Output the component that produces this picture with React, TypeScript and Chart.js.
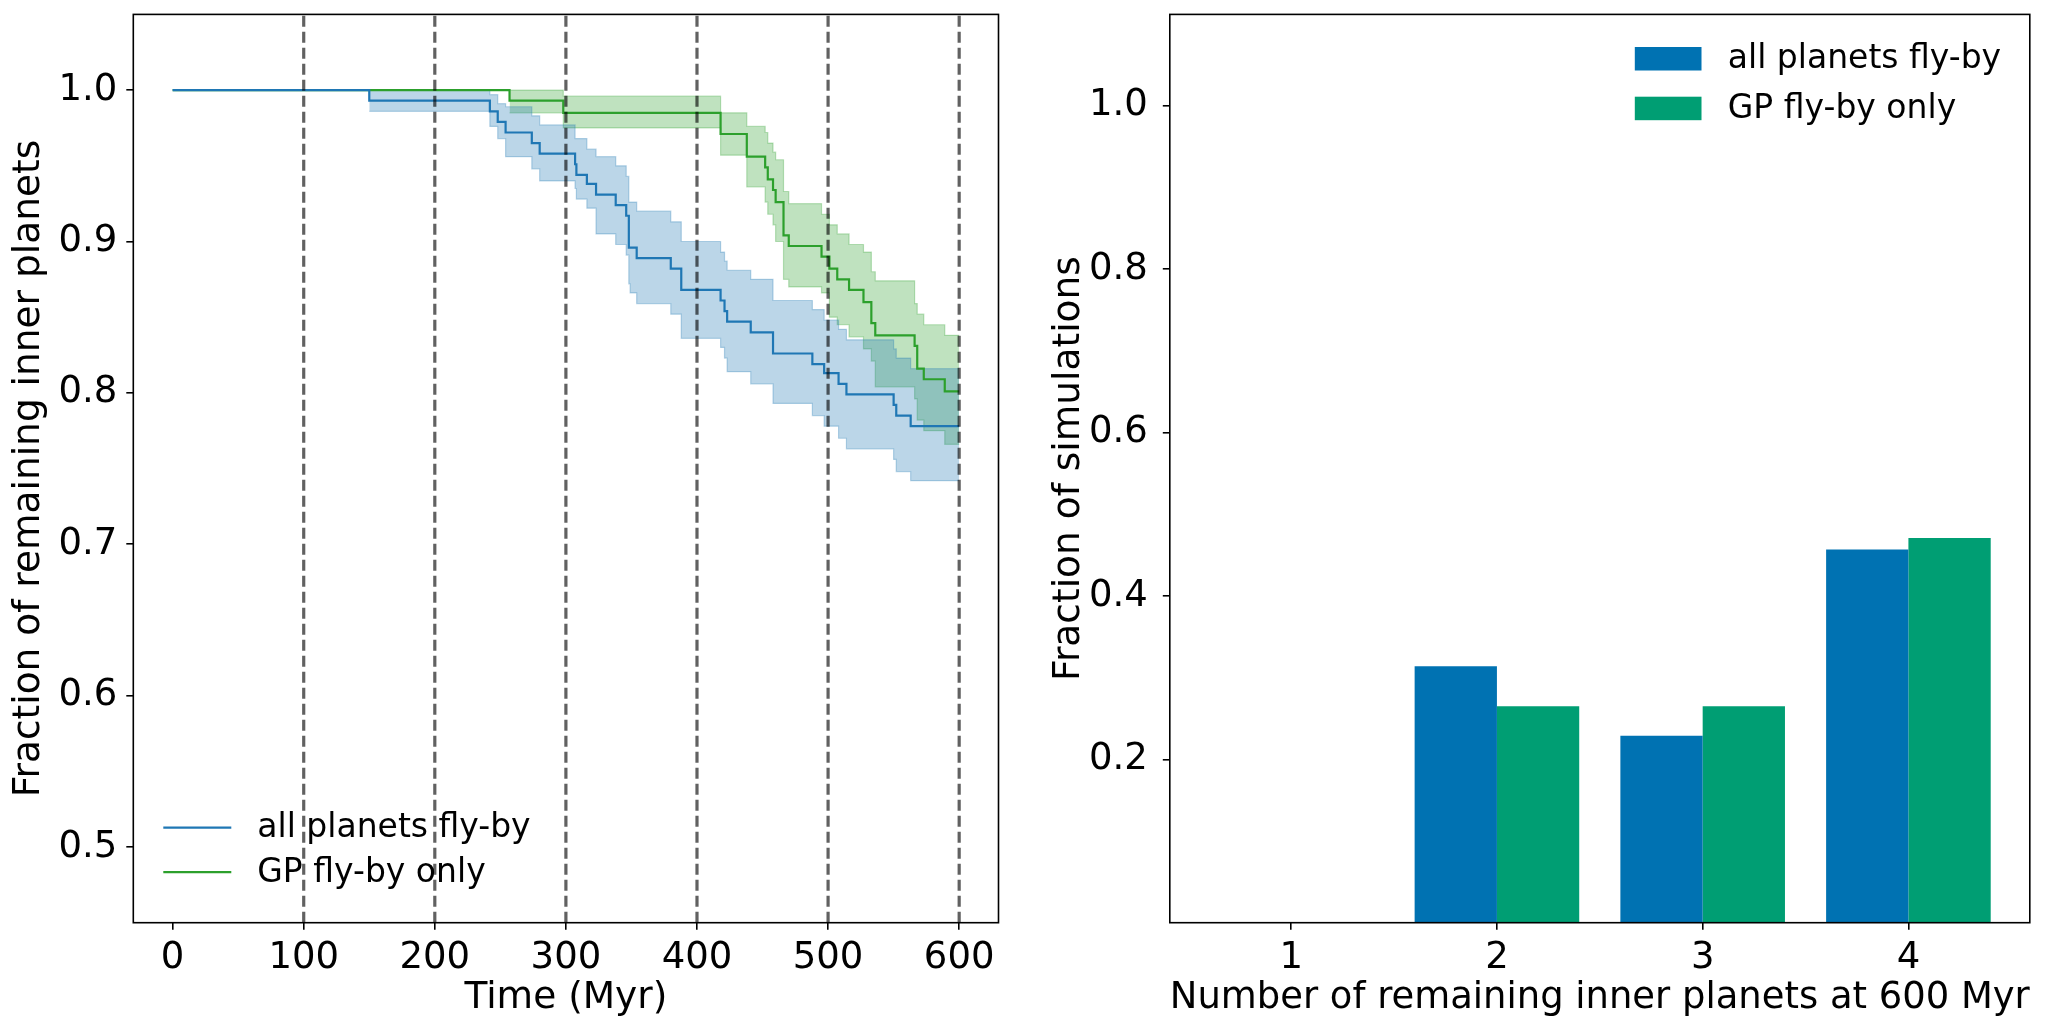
import React, { useEffect, useRef } from 'react';
import { Chart, registerables } from 'chart.js';

Chart.register(...registerables);

// ---------- data: left panel ----------
const seriesLabels = ['all planets fly-by', 'GP fly-by only'];

const blueTimes = [0, 150, 242, 248, 254, 274, 280, 307, 308, 316, 323, 338, 346, 348, 354, 380, 388, 418, 421, 423, 441, 458, 488, 497, 508, 514, 550, 552, 563, 600];
const blueValues = [1.0, 0.993, 0.986, 0.979, 0.972, 0.965, 0.958, 0.951, 0.944, 0.938, 0.931, 0.924, 0.917, 0.896, 0.889, 0.882, 0.868, 0.861, 0.854, 0.847, 0.84, 0.826, 0.819, 0.813, 0.806, 0.799, 0.792, 0.785, 0.778, 0.778];

const blueBandTimes = [150, 242, 248, 254, 274, 280, 307, 308, 316, 323, 338, 346, 348, 349, 354, 380, 388, 418, 421, 423, 441, 458, 488, 497, 508, 514, 550, 552, 563, 600];
const blueBandUpper = [1.0, 0.997, 0.991, 0.989, 0.983, 0.977, 0.968, 0.968, 0.961, 0.956, 0.95, 0.943, 0.926, 0.926, 0.92, 0.913, 0.9, 0.893, 0.887, 0.881, 0.875, 0.861, 0.855, 0.848, 0.842, 0.835, 0.829, 0.823, 0.816, 0.816];
const blueBandLower = [0.986, 0.976, 0.968, 0.956, 0.948, 0.94, 0.935, 0.928, 0.922, 0.905, 0.898, 0.891, 0.872, 0.866, 0.859, 0.852, 0.836, 0.83, 0.823, 0.814, 0.806, 0.793, 0.785, 0.778, 0.77, 0.763, 0.756, 0.748, 0.742, 0.742];

const greenTimes = [0, 257, 298, 418, 438, 452, 454, 458, 460, 466, 470, 495, 501, 507, 516, 527, 533, 536, 566, 568, 573, 589, 600];
const greenValues = [1.0, 0.993, 0.985, 0.971, 0.956, 0.949, 0.941, 0.934, 0.926, 0.904, 0.897, 0.89, 0.882, 0.875, 0.868, 0.86, 0.846, 0.838, 0.831, 0.816, 0.809, 0.801, 0.801];

const greenBandTimes = [257, 298, 418, 438, 452, 454, 458, 460, 466, 470, 495, 501, 507, 516, 527, 533, 536, 566, 568, 573, 589, 600];
const greenBandUpper = [1.0, 0.996, 0.985, 0.976, 0.972, 0.965, 0.959, 0.954, 0.933, 0.925, 0.918, 0.911, 0.905, 0.898, 0.893, 0.88, 0.874, 0.859, 0.852, 0.845, 0.838, 0.838];
const greenBandLower = [0.985, 0.975, 0.957, 0.936, 0.926, 0.918, 0.911, 0.9, 0.875, 0.87, 0.866, 0.85, 0.845, 0.837, 0.829, 0.821, 0.804, 0.796, 0.782, 0.775, 0.766, 0.766];

const vlineTimes = [100, 200, 300, 400, 500, 600];
const leftXTicks = [0, 100, 200, 300, 400, 500, 600];
const leftYTicks = [0.5, 0.6, 0.7, 0.8, 0.9, 1.0];

// ---------- data: right panel ----------
const barCategories = [1, 2, 3, 4];
const barAllPlanets = [0, 0.314, 0.229, 0.457];
const barGPOnly = [0, 0.265, 0.265, 0.471];
const rightYTicks = [0.2, 0.4, 0.6, 0.8, 1.0];

const FONT = '"DejaVu Sans", sans-serif';
const TICK_SIZE = 37;
const TITLE_SIZE = 37.5;
const LEGEND_SIZE = 33;
const BLUE_LINE = '#1f77b4';
const GREEN_LINE = '#2ca02c';
const BLUE_FILL = 'rgba(31,119,180,0.3)';
const GREEN_FILL = 'rgba(44,160,44,0.3)';
const BLUE_BAR = '#0072B2';
const GREEN_BAR = '#009E73';

const pts = (xs: number[], ys: number[]) => xs.map((x, i) => ({ x, y: ys[i] }));

const framePlugin = {
  id: 'frame',
  afterDraw(chart: any) {
    const { ctx, chartArea } = chart;
    ctx.save();
    ctx.strokeStyle = '#000';
    ctx.lineWidth = 1.6;
    ctx.strokeRect(chartArea.left, chartArea.top, chartArea.right - chartArea.left, chartArea.bottom - chartArea.top);
    ctx.restore();
  },
};

const leftLegendPlugin = {
  id: 'leftLegend',
  afterDraw(chart: any) {
    const { ctx, chartArea } = chart;
    const colors = [BLUE_LINE, GREEN_LINE];
    ctx.save();
    ctx.font = `${LEGEND_SIZE}px ${FONT}`;
    ctx.textBaseline = 'middle';
    ctx.textAlign = 'left';
    seriesLabels.forEach((label, i) => {
      const y = chartArea.bottom - 95 + i * 44.5;
      ctx.strokeStyle = colors[i];
      ctx.lineWidth = 2.2;
      ctx.beginPath();
      ctx.moveTo(chartArea.left + 30, y);
      ctx.lineTo(chartArea.left + 98, y);
      ctx.stroke();
      ctx.fillStyle = '#000';
      ctx.fillText(label, chartArea.left + 124, y + 1);
    });
    ctx.restore();
  },
};

const rightLegendPlugin = {
  id: 'rightLegend',
  afterDraw(chart: any) {
    const { ctx, chartArea } = chart;
    const colors = [BLUE_BAR, GREEN_BAR];
    ctx.save();
    ctx.font = `${LEGEND_SIZE}px ${FONT}`;
    ctx.textBaseline = 'middle';
    ctx.textAlign = 'left';
    seriesLabels.forEach((label, i) => {
      const y = chartArea.top + 44.4 + i * 49.7;
      ctx.fillStyle = colors[i];
      ctx.fillRect(chartArea.right - 395, y - 11.8, 66.7, 23.5);
      ctx.fillStyle = '#000';
      ctx.fillText(label, chartArea.right - 302, y + 1);
    });
    ctx.restore();
  },
};

const tickStyle = (fmt: (v: number) => string, padding: number) => ({
  color: '#000',
  font: { family: FONT, size: TICK_SIZE },
  padding,
  callback: (v: any) => fmt(Number(v)),
  maxRotation: 0,
  autoSkip: false,
});

const gridStyle = {
  display: true,
  drawOnChartArea: false,
  drawTicks: true,
  tickLength: 7,
  color: '#000',
  lineWidth: 1.6,
};

const fixHeight = (h: number) => (axis: any) => {
  axis.height = h;
  axis.paddingLeft = 0;
  axis.paddingRight = 0;
};
const fixWidth = (w: number) => (axis: any) => {
  axis.width = w;
  axis.paddingTop = 0;
  axis.paddingBottom = 0;
};

function LeftChart() {
  const ref = useRef<HTMLCanvasElement | null>(null);
  useEffect(() => {
    if (!ref.current) return;
    const yMin = 0.45;
    const yMax = 1.05;
    const vDatasets = vlineTimes.map((t) => ({
      type: 'line' as const,
      data: [{ x: t, y: yMin }, { x: t, y: yMax }],
      borderColor: 'rgba(0,0,0,0.62)',
      borderWidth: 3.2,
      borderDash: [11, 5],
      pointRadius: 0,
      fill: false,
      order: 0,
    }));
    const chart = new Chart(ref.current, {
      type: 'line',
      data: {
        datasets: [
          ...vDatasets,
          { data: pts(blueTimes, blueValues), borderColor: BLUE_LINE, borderWidth: 2.2, stepped: true, pointRadius: 0, fill: false, order: 1 },
          { data: pts(greenTimes, greenValues), borderColor: GREEN_LINE, borderWidth: 2.2, stepped: true, pointRadius: 0, fill: false, order: 1 },
          { data: pts(blueBandTimes, blueBandUpper), borderColor: BLUE_FILL, borderWidth: 1.2, stepped: true, pointRadius: 0, fill: false, order: 2 },
          { data: pts(blueBandTimes, blueBandLower), borderColor: BLUE_FILL, backgroundColor: BLUE_FILL, borderWidth: 1.2, stepped: true, pointRadius: 0, fill: '-1', order: 2 },
          { data: pts(greenBandTimes, greenBandUpper), borderColor: GREEN_FILL, borderWidth: 1.2, stepped: true, pointRadius: 0, fill: false, order: 2 },
          { data: pts(greenBandTimes, greenBandLower), borderColor: GREEN_FILL, backgroundColor: GREEN_FILL, borderWidth: 1.2, stepped: true, pointRadius: 0, fill: '-1', order: 2 },
        ] as any,
      },
      options: {
        animation: false,
        responsive: false,
        layout: { padding: { left: 0, top: 14.4, right: 31.5, bottom: 0 } },
        plugins: { legend: { display: false }, tooltip: { enabled: false } },
        scales: {
          x: {
            type: 'linear',
            min: -30,
            max: 630,
            afterBuildTicks: (axis: any) => { axis.ticks = leftXTicks.map((v) => ({ value: v })); },
            afterFit: fixHeight(110.3),
            ticks: tickStyle((v) => String(v), 6),
            grid: gridStyle,
            border: { display: false },
            title: { display: true, text: 'Time (Myr)', color: '#000', font: { family: FONT, size: TITLE_SIZE }, padding: { top: 4, bottom: 12 } },
          },
          y: {
            type: 'linear',
            min: yMin,
            max: yMax,
            afterBuildTicks: (axis: any) => { axis.ticks = leftYTicks.map((v) => ({ value: v })); },
            afterFit: fixWidth(133.3),
            ticks: tickStyle((v) => v.toFixed(1), 9),
            grid: gridStyle,
            border: { display: false },
            title: { display: true, text: 'Fraction of remaining inner planets', color: '#000', font: { family: FONT, size: TITLE_SIZE }, padding: { top: 7, bottom: 4 } },
          },
        },
      } as any,
      plugins: [framePlugin, leftLegendPlugin],
    });
    return () => chart.destroy();
  }, []);
  return <canvas ref={ref} width={1030} height={1033} style={{ position: 'absolute', left: 0, top: 0, width: 1030, height: 1033 }} />;
}

function RightChart() {
  const ref = useRef<HTMLCanvasElement | null>(null);
  useEffect(() => {
    if (!ref.current) return;
    const chart = new Chart(ref.current, {
      type: 'bar',
      data: {
        datasets: [
          { label: seriesLabels[0], data: pts(barCategories, barAllPlanets), backgroundColor: BLUE_BAR, borderWidth: 0, categoryPercentage: 0.8, barPercentage: 1.0 },
          { label: seriesLabels[1], data: pts(barCategories, barGPOnly), backgroundColor: GREEN_BAR, borderWidth: 0, categoryPercentage: 0.8, barPercentage: 1.0 },
        ] as any,
      },
      options: {
        animation: false,
        responsive: false,
        layout: { padding: { left: 0, top: 14.4, right: 19.2, bottom: 0 } },
        plugins: { legend: { display: false }, tooltip: { enabled: false } },
        scales: {
          x: {
            type: 'linear',
            min: 0.41,
            max: 4.59,
            offset: false,
            afterBuildTicks: (axis: any) => { axis.ticks = barCategories.map((v) => ({ value: v })); },
            afterFit: fixHeight(110.3),
            ticks: tickStyle((v) => String(v), 6),
            grid: { ...gridStyle, offset: false },
            border: { display: false },
            title: { display: true, text: 'Number of remaining inner planets at 600 Myr', color: '#000', font: { family: FONT, size: TITLE_SIZE }, padding: { top: 4, bottom: 12 } },
          },
          y: {
            type: 'linear',
            min: 0,
            max: 1.112,
            afterBuildTicks: (axis: any) => { axis.ticks = rightYTicks.map((v) => ({ value: v })); },
            afterFit: fixWidth(129.8),
            ticks: tickStyle((v) => v.toFixed(1), 15),
            grid: gridStyle,
            border: { display: false },
            title: { display: true, text: 'Fraction of simulations', color: '#000', font: { family: FONT, size: TITLE_SIZE }, padding: { top: 7, bottom: 4 } },
          },
        },
      } as any,
      plugins: [framePlugin, rightLegendPlugin],
    });
    return () => chart.destroy();
  }, []);
  return <canvas ref={ref} width={1009} height={1033} style={{ position: 'absolute', left: 1040, top: 0, width: 1009, height: 1033 }} />;
}

export default function App() {
  return (
    <div style={{ position: 'absolute', left: 0, top: 0, width: 2049, height: 1033, background: '#fff', overflow: 'hidden' }}>
      <LeftChart />
      <RightChart />
    </div>
  );
}
